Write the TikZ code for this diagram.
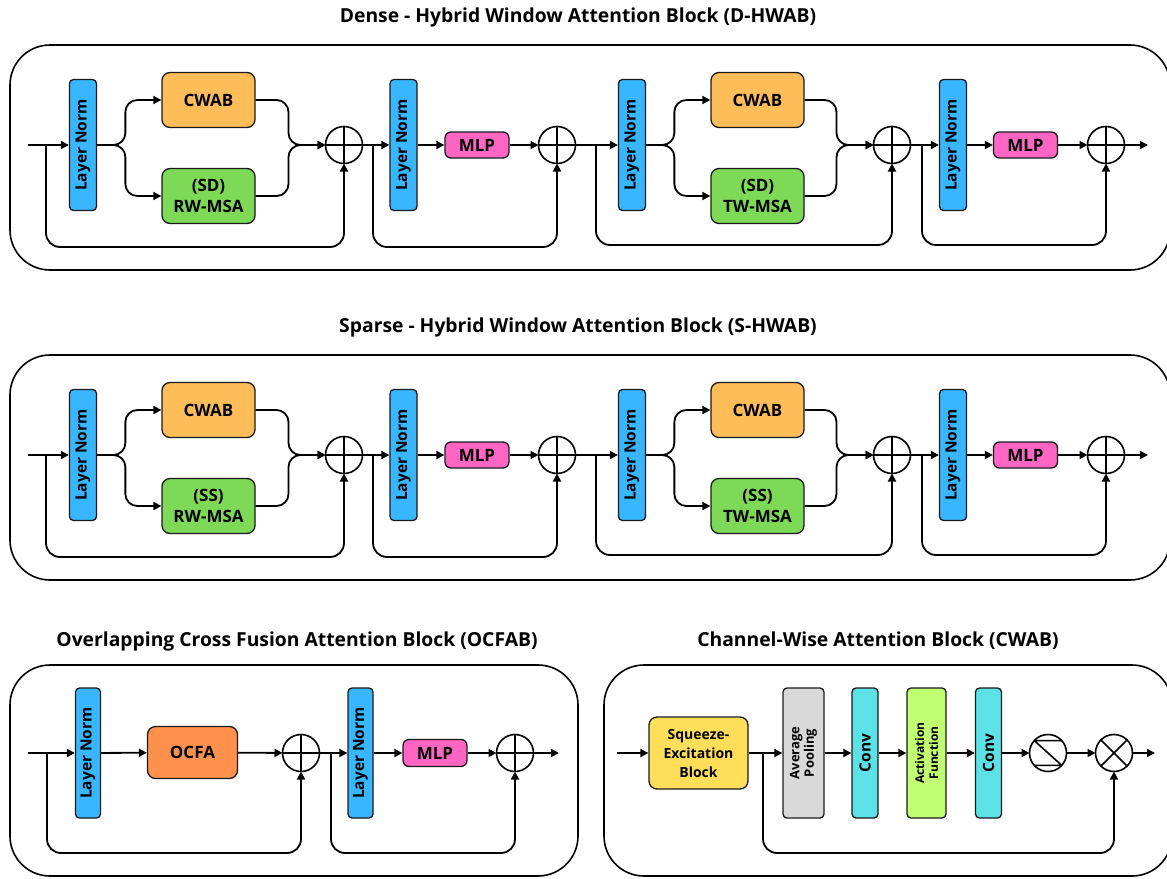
\documentclass[tikz,border=0pt]{standalone}
\usepackage{fontspec}
\setmainfont{Open Sans}
\usetikzlibrary{arrows.meta,calc}
\definecolor{edge}{HTML}{1A1A1A}
\definecolor{lnblue}{HTML}{38B6FF}
\definecolor{cwabc}{HTML}{FFBD59}
\definecolor{msac}{HTML}{7ED957}
\definecolor{mlpc}{HTML}{FF66C4}
\definecolor{ocfac}{HTML}{FF914D}
\definecolor{sec}{HTML}{FFDE59}
\definecolor{apc}{HTML}{D9D9D9}
\definecolor{convc}{HTML}{5CE1E6}
\definecolor{afc}{HTML}{C1FF72}
\tikzset{
  frame/.style={draw=black, line width=1.6pt, rounded corners=40pt},
  titletext/.style={font=\bfseries\fontsize{19.3}{22}\selectfont, inner sep=0pt},
  vbox/.style={draw=edge, line width=1.3pt, rotate=90, rounded corners=4pt, inner sep=0pt,
    minimum width=131pt, font=\bfseries\fontsize{15.5}{17}\selectfont, align=center},
  lnbox/.style={vbox, fill=lnblue, minimum height=27pt},
  bigbox/.style={draw=edge, line width=1.3pt, rounded corners=8pt, inner sep=0pt,
    minimum width=93pt, minimum height=55pt, align=center,
    font=\bfseries\fontsize{17}{21}\selectfont},
  mlpbox/.style={draw=edge, line width=1.3pt, rounded corners=6pt, inner sep=0pt, fill=mlpc,
    minimum width=64pt, minimum height=26pt, font=\bfseries\fontsize{17}{20}\selectfont},
  opnode/.style={circle, draw=black, line width=1.6pt, minimum size=37pt, inner sep=0pt, outer sep=0pt},
  arr/.style={line width=1.8pt, -{Triangle[length=8pt,width=8pt]}},
}
\newcommand\plusmark[1]{\draw[line width=1.6pt] (#1.north) -- (#1.south) (#1.west) -- (#1.east);}
\newcommand\hwabblock[4]{%
  \draw[frame] (10,#2-100) rectangle (1170,#2+125);
  \node[titletext] (#1title) at (578,#2-128) {#4};
  \coordinate (#1in) at (28,#2);
  \coordinate (#1s1) at (46,#2);
  \node[lnbox] (#1lna) at (83,#2) {Layer Norm};
  \node[bigbox, fill=cwabc] (#1cwa) at (208.5,#2-45) {CWAB};
  \node[bigbox, fill=msac] (#1msaa) at (208.5,#2+51) {#3\\RW-MSA};
  \node[opnode] (#1ca) at (344,#2) {};
  \coordinate (#1s2) at (373,#2);
  \node[lnbox] (#1lnb) at (403.5,#2) {Layer Norm};
  \node[mlpbox] (#1mlpa) at (477,#2) {MLP};
  \node[opnode] (#1cb) at (557,#2) {};
  \coordinate (#1s3) at (596,#2);
  \node[lnbox] (#1lnc) at (632,#2) {Layer Norm};
  \node[bigbox, fill=cwabc] (#1cwb) at (757.5,#2-45) {CWAB};
  \node[bigbox, fill=msac] (#1msab) at (757.5,#2+51) {#3\\TW-MSA};
  \node[opnode] (#1cc) at (892,#2) {};
  \coordinate (#1s4) at (922,#2);
  \node[lnbox] (#1lnd) at (953,#2) {Layer Norm};
  \node[mlpbox] (#1mlpb) at (1025.5,#2) {MLP};
  \node[opnode] (#1cd) at (1106,#2) {};
  \coordinate (#1out) at (1148,#2);
  \plusmark{#1ca}\plusmark{#1cb}\plusmark{#1cc}\plusmark{#1cd}
  \draw[arr] (#1in) -- (#1lna);
  \draw[arr, rounded corners=14pt] (#1s1) -- ++(0,102) -| (#1ca.south);
  \draw[arr, rounded corners=12pt] (#1lna.south) -| ($(#1cwa.west)+(-36,0)$) -- (#1cwa.west);
  \draw[arr, rounded corners=12pt] (#1lna.south) -| ($(#1msaa.west)+(-36,0)$) -- (#1msaa.west);
  \draw[arr, rounded corners=12pt] (#1cwa.east) -| ($(#1ca.west)+(-37,0)$) -- (#1ca.west);
  \draw[arr, rounded corners=12pt] (#1msaa.east) -| ($(#1ca.west)+(-37,0)$) -- (#1ca.west);
  \draw[arr] (#1ca) -- (#1lnb);
  \draw[arr, rounded corners=14pt] (#1s2) -- ++(0,102) -| (#1cb.south);
  \draw[arr] (#1lnb) -- (#1mlpa);
  \draw[arr] (#1mlpa) -- (#1cb);
  \draw[arr] (#1cb) -- (#1lnc);
  \draw[arr, rounded corners=14pt] (#1s3) -- ++(0,100) -| (#1cc.south);
  \draw[arr, rounded corners=12pt] (#1lnc.south) -| ($(#1cwb.west)+(-36,0)$) -- (#1cwb.west);
  \draw[arr, rounded corners=12pt] (#1lnc.south) -| ($(#1msab.west)+(-36,0)$) -- (#1msab.west);
  \draw[arr, rounded corners=12pt] (#1cwb.east) -| ($(#1cc.west)+(-37,0)$) -- (#1cc.west);
  \draw[arr, rounded corners=12pt] (#1msab.east) -| ($(#1cc.west)+(-37,0)$) -- (#1cc.west);
  \draw[arr] (#1cc) -- (#1lnd);
  \draw[arr, rounded corners=14pt] (#1s4) -- ++(0,100) -| (#1cd.south);
  \draw[arr] (#1lnd) -- (#1mlpb);
  \draw[arr] (#1mlpb) -- (#1cd);
  \draw[arr] (#1cd) -- (#1out);
}
\begin{document}
\begin{tikzpicture}[x=1pt, y=-1pt]
\useasboundingbox (0,0) rectangle (1167,878);
\clip (0,0) rectangle (1167,878);
\hwabblock{d}{145}{(SD)}{Dense - Hybrid Window Attention Block (D-HWAB)}
\hwabblock{s}{455}{(SS)}{Sparse - Hybrid Window Attention Block (S-HWAB)}
% OCFAB
\draw[frame] (10,665) rectangle (578,876);
\node[titletext] (otitle) at (297,641) {Overlapping Cross Fusion Attention Block (OCFAB)};
\coordinate (oin) at (28,753);
\coordinate (os1) at (47,753);
\node[lnbox, minimum width=130pt, minimum height=25pt] (olna) at (88,753) {Layer Norm};
\node[bigbox, fill=ocfac, minimum width=90pt, minimum height=52pt] (ocfa) at (192.5,752.5) {OCFA};
\node[opnode] (oca) at (301,753) {};
\coordinate (os2) at (331,753);
\node[lnbox, minimum width=130pt, minimum height=25pt] (olnb) at (360.5,753) {Layer Norm};
\node[mlpbox, minimum height=27pt] (omlp) at (435,753) {MLP};
\node[opnode] (ocb) at (515,753) {};
\coordinate (oout) at (559,753);
\plusmark{oca}\plusmark{ocb}
\draw[arr] (oin) -- (olna);
\draw[arr, rounded corners=14pt] (os1) -- ++(0,100) -| (oca.south);
\draw[arr] (olna) -- (ocfa);
\draw[arr] (ocfa) -- (oca);
\draw[arr] (oca) -- (olnb);
\draw[arr, rounded corners=14pt] (os2) -- ++(0,100) -| (ocb.south);
\draw[arr] (olnb) -- (omlp);
\draw[arr] (omlp) -- (ocb);
\draw[arr] (ocb) -- (oout);
% CWAB
\draw[frame] (604,665) rectangle (1172,876);
\node[titletext] (ctitle) at (878,641) {Channel-Wise Attention Block (CWAB)};
\coordinate (cin) at (617,753);
\node[bigbox, fill=sec, minimum width=99pt, minimum height=72pt, font=\bfseries\fontsize{14}{19}\selectfont] (se) at (698.5,753) {Squeeze-\\Excitation\\Block};
\coordinate (cs1) at (763,753);
\node[vbox, fill=apc, minimum width=130pt, minimum height=41pt, font=\bfseries\fontsize{13}{14.5}\selectfont] (ap) at (803.5,753) {Average\\Pooling};
\node[vbox, fill=convc, minimum width=130pt, minimum height=26pt] (cva) at (865,753) {Conv};
\node[vbox, fill=afc, minimum width=130pt, minimum height=39pt, font=\bfseries\fontsize{12}{14}\selectfont] (af) at (926.5,753) {Activation\\Function};
\node[vbox, fill=convc, minimum width=130pt, minimum height=26pt] (cvb) at (988.5,753) {Conv};
\node[opnode] (sg) at (1048,753) {};
\node[opnode] (ot) at (1114,753) {};
\coordinate (cout) at (1155,753);
\draw[line width=1.6pt] (sg.138) -- (sg.42) (sg.222) -- (sg.318) (sg.138) -- (sg.318);
\draw[line width=1.6pt] (ot.45) -- (ot.225) (ot.135) -- (ot.315);
\draw[arr] (cin) -- (se);
\draw[arr] (se) -- (ap);
\draw[arr, rounded corners=14pt] (cs1) -- ++(0,100) -| (ot.south);
\draw[arr] (ap) -- (cva);
\draw[arr] (cva) -- (af);
\draw[arr] (af) -- (cvb);
\draw[arr] (cvb) -- (sg);
\draw[arr] (sg) -- (ot);
\draw[arr] (ot) -- (cout);
\end{tikzpicture}
\end{document}
